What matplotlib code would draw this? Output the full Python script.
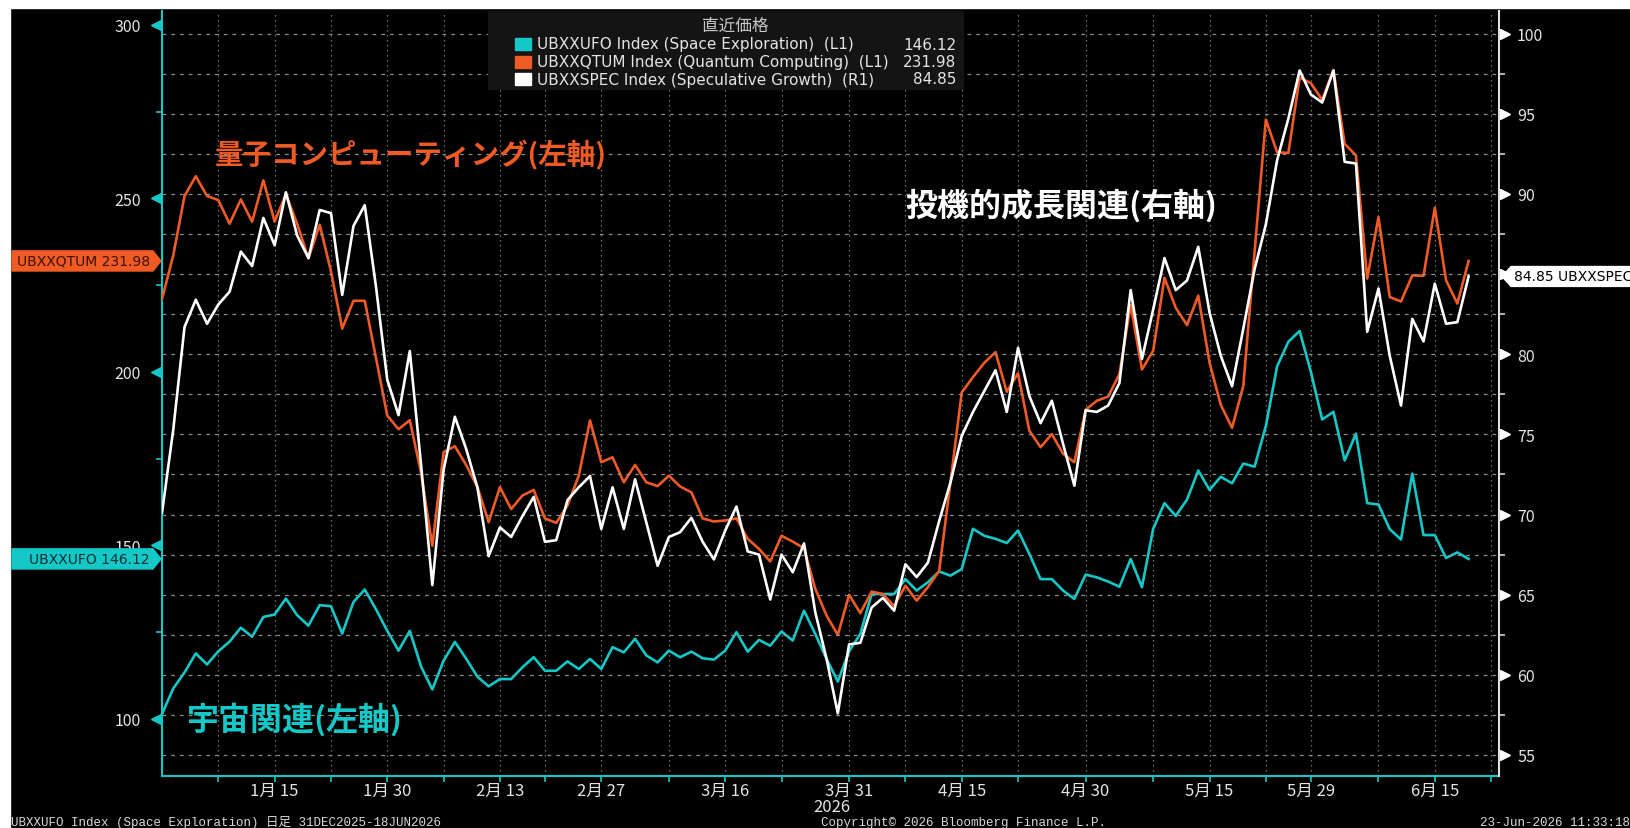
import numpy as np
import pandas as pd
import matplotlib.pyplot as plt
import matplotlib.transforms as mtransforms
from matplotlib.patches import Polygon, Rectangle

plt.rcParams["font.family"] = ["Noto Sans CJK JP", "DejaVu Sans"]

W, H = 1630, 829
CYAN = "#14c8c8"
ORANGE = "#f05a24"
GRID = "#8c8c8c"
TXT = "#e4e4e4"

# ---------- data (business days, US market holidays skipped) ----------
HOLIDAYS = ["2026-01-01", "2026-01-19", "2026-02-16", "2026-04-03", "2026-05-25"]
dates = pd.bdate_range("2025-12-31", "2026-06-18", freq="C", holidays=HOLIDAYS)

qtum = [221.0, 233.6, 250.7, 256.4, 250.7, 249.5, 242.7, 249.7, 243.3, 255.2,
        243.3, 251.2, 242.7, 232.7, 242.4, 229.0, 212.5, 220.5, 220.5, 204.0,
        187.4, 183.5, 186.1, 170.9, 149.9, 176.9, 178.6, 173.2, 166.9, 156.7,
        166.8, 160.5, 164.4, 166.0, 157.8, 156.5, 161.5, 170.1, 186.0, 174.0,
        175.4, 168.2, 173.2, 168.2, 167.1, 170.1, 167.0, 165.3, 157.8, 156.9,
        157.2, 157.8, 151.9, 149.0, 145.4, 152.8, 151.1, 149.2, 137.5, 129.8,
        124.2, 135.8, 130.5, 136.7, 136.0, 132.5, 138.4, 134.1, 138.0, 142.7,
        168.2, 194.1, 198.5, 202.6, 205.7, 194.3, 199.6, 183.1, 178.3, 182.1,
        176.4, 174.0, 189.1, 191.7, 192.9, 199.4, 219.3, 200.7, 206.1, 227.1,
        218.5, 213.5, 222.0, 202.7, 190.5, 183.9, 196.0, 234.6, 272.7, 263.3,
        263.1, 284.8, 283.2, 278.4, 287.0, 265.7, 262.4, 226.9, 244.6, 221.6,
        220.3, 227.8, 227.7, 247.3, 226.4, 219.7, 231.98]

spec = [70.1, 75.3, 81.7, 83.4, 81.9, 83.1, 83.9, 86.4, 85.5, 88.5,
        86.8, 90.1, 87.4, 86.0, 89.0, 88.8, 83.7, 88.0, 89.3, 84.2,
        78.4, 76.2, 80.2, 73.1, 65.6, 72.8, 76.1, 74.1, 71.7, 67.4,
        69.2, 68.6, 69.9, 71.1, 68.3, 68.4, 70.9, 71.7, 72.4, 69.1,
        71.7, 69.1, 72.2, 69.5, 66.8, 68.6, 68.9, 69.8, 68.3, 67.2,
        69.0, 70.5, 67.7, 67.5, 64.7, 67.5, 66.4, 68.2, 63.9, 61.0,
        57.6, 61.9, 62.0, 64.2, 64.8, 64.0, 66.9, 66.1, 67.0, 69.6,
        72.0, 74.9, 76.4, 77.7, 79.0, 76.4, 80.4, 77.4, 75.7, 77.1,
        74.4, 71.8, 76.5, 76.4, 76.8, 78.2, 84.0, 79.7, 82.8, 86.0,
        84.0, 84.6, 86.7, 82.6, 79.9, 78.0, 81.6, 85.3, 88.1, 92.1,
        94.7, 97.7, 96.2, 95.7, 97.7, 92.0, 91.9, 81.4, 84.1, 79.9,
        76.8, 82.2, 80.8, 84.4, 81.9, 82.0, 84.85]

ufo = [101.4, 108.8, 113.4, 118.9, 115.7, 119.5, 122.3, 126.3, 123.7, 129.4,
       130.1, 134.7, 129.9, 126.9, 132.8, 132.5, 124.6, 133.7, 137.3, 131.6,
       125.4, 119.7, 125.4, 115.1, 108.5, 116.8, 122.2, 117.4, 112.2, 109.4,
       111.5, 111.5, 114.9, 117.8, 113.9, 113.9, 116.6, 114.4, 117.3, 114.4,
       120.7, 119.2, 123.1, 118.3, 116.3, 119.7, 117.8, 119.4, 117.5, 117.1,
       119.7, 125.0, 119.4, 122.8, 121.1, 125.2, 122.6, 131.2, 124.5, 117.3,
       110.8, 119.5, 124.5, 136.0, 136.0, 136.0, 140.3, 137.0, 139.4, 142.5,
       141.3, 143.2, 154.8, 152.8, 151.9, 150.7, 154.3, 147.6, 140.3, 140.3,
       137.0, 134.6, 141.6, 140.8, 139.6, 138.1, 146.1, 138.0, 154.8, 162.2,
       158.5, 163.2, 171.6, 166.0, 169.8, 167.9, 173.6, 172.7, 184.4, 201.6,
       208.7, 211.8, 200.0, 186.3, 188.5, 174.5, 182.2, 162.2, 161.8, 154.7,
       151.7, 170.7, 153.0, 153.0, 146.4, 148.0, 146.12]

label_dates = ["2026-01-15", "2026-01-30", "2026-02-13", "2026-02-27", "2026-03-16",
               "2026-03-31", "2026-04-15", "2026-04-30", "2026-05-15", "2026-05-29",
               "2026-06-15"]
mid_ticks = [5, 15, 25, 34, 45, 55, 66, 76, 88, 98, 108, 118]

left_ticks = [100, 150, 200, 250, 300]
left_minor = [125, 175, 225, 275]
right_ticks = [55, 60, 65, 70, 75, 80, 85, 90, 95, 100]
right_minor = [57.5, 62.5, 67.5, 72.5, 77.5, 82.5, 87.5, 92.5, 97.5]

x = np.arange(len(dates))
label_idx = [dates.get_loc(pd.Timestamp(d)) for d in label_dates]
label_txt = [f"{pd.Timestamp(d).month}月 {pd.Timestamp(d).day}" for d in label_dates]


def fx(px):
    return px / W


def fy(py):
    return 1 - py / H


# ---------- figure ----------
fig = plt.figure(figsize=(W / 100, H / 100), dpi=100, facecolor="black")
fig.add_artist(Rectangle((0, fy(9)), 1, 9 / H, transform=fig.transFigure, color="white", zorder=0))
fig.add_artist(Rectangle((0, 0), fx(10), 1, transform=fig.transFigure, color="white", zorder=0))

ax = fig.add_axes([fx(162), fy(777), fx(1499 - 162), (777 - 12) / H])
ax.set_facecolor("black")
ax2 = ax.twinx()

ax.plot(x, ufo, color=CYAN, lw=1.9, zorder=3)
ax.plot(x, qtum, color=ORANGE, lw=1.9, zorder=3)
ax2.plot(x, spec, color="white", lw=1.9, zorder=3)

ax.set_xlim(0, 118.7)
ax.set_ylim(83.57, 304.0)
ax2.set_ylim(53.69, 101.41)

# x axis
ax.set_xticks(label_idx)
ax.set_xticklabels(label_txt)
ax.set_xticks(mid_ticks, minor=True)
ax.tick_params(axis="x", which="both", colors=CYAN, length=4, width=1.2,
               labelcolor=TXT, labelsize=12, pad=0)
ax.grid(axis="x", which="both", color=GRID, ls=(0, (1, 3)), lw=0.9)

# left axis
ax.set_yticks(left_ticks)
ax.set_yticks(left_minor, minor=True)
ax.tick_params(axis="y", which="major", length=0, pad=15, labelcolor=TXT, labelsize=11.5)
ax.tick_params(axis="y", which="minor", length=4, width=1.2, colors=CYAN)
ax.plot(np.full(len(left_ticks), -0.0045), left_ticks, ls="none", marker="<", ms=7,
        color=CYAN, transform=ax.get_yaxis_transform(), clip_on=False)

# right axis
ax2.set_yticks(right_ticks)
ax2.set_yticks(right_minor, minor=True)
ax2.tick_params(axis="y", which="major", length=0, pad=13, labelcolor=TXT, labelsize=11.5)
ax2.tick_params(axis="y", which="minor", length=4, width=1.2, colors="#d0d0d0")
ax2.plot(np.full(len(right_ticks), 1.0045), right_ticks, ls="none", marker=">", ms=7,
         color="white", transform=ax2.get_yaxis_transform(), clip_on=False)
ax2.grid(axis="y", which="both", color=GRID, ls=(0, (3, 4)), lw=0.9)
ax2.set_axisbelow(True)

for a in (ax, ax2):
    for s in a.spines.values():
        s.set_visible(False)
ax.spines["left"].set_visible(True)
ax.spines["left"].set_color(CYAN)
ax.spines["left"].set_linewidth(1.5)
ax.spines["bottom"].set_visible(True)
ax.spines["bottom"].set_color(CYAN)
ax.spines["bottom"].set_linewidth(1.5)
ax2.spines["right"].set_visible(True)
ax2.spines["right"].set_color("#e0e0e0")
ax2.spines["right"].set_linewidth(1.5)

# ---------- last-value tags ----------
tr_left = mtransforms.blended_transform_factory(fig.transFigure, ax.transData)
tr_right = mtransforms.blended_transform_factory(fig.transFigure, ax2.transData)


def tag(trans, v, h, xs, color, text, tcolor, tx, ha):
    x0, x1, tip = xs
    pts = [(fx(x0), v + h), (fx(x1), v + h), (fx(tip), v), (fx(x1), v - h), (fx(x0), v - h)]
    fig.add_artist(Polygon(pts, closed=True, transform=trans, color=color, zorder=10))
    fig.text(fx(tx), v, text, transform=trans, color=tcolor, fontsize=10,
             ha=ha, va="center", zorder=11, family=["DejaVu Sans"])


tag(tr_left, qtum[-1], 2.9, (12, 153, 161), ORANGE, f"UBXXQTUM {qtum[-1]:.2f}", "#3a1000", 150, "right")
tag(tr_left, ufo[-1], 2.9, (12, 153, 161), CYAN, f"UBXXUFO {ufo[-1]:.2f}", "#083030", 150, "right")
tag(tr_right, spec[-1], 0.62, (1660, 1511, 1502), "white", f"{spec[-1]:.2f} UBXXSPEC", "black", 1514, "left")

# ---------- legend box ----------
fig.add_artist(Rectangle((fx(488), fy(90)), fx(963 - 488), (90 - 12) / H,
                         transform=fig.transFigure, color="#141414", zorder=12))
fig.text(fx(735), fy(26), "直近価格", color="#c8c8c8", fontsize=12, ha="center", va="center", zorder=13)
leg_names = ["UBXXUFO Index (Space Exploration)  (L1)",
             "UBXXQTUM Index (Quantum Computing)  (L1)",
             "UBXXSPEC Index (Speculative Growth)  (R1)"]
leg_vals = [ufo[-1], qtum[-1], spec[-1]]
leg_cols = [CYAN, ORANGE, "white"]
for k, (nm, val, col) in enumerate(zip(leg_names, leg_vals, leg_cols)):
    yy = 45 + k * 17.5
    fig.add_artist(Rectangle((fx(515), fy(yy + 6)), fx(16), 12 / H, transform=fig.transFigure,
                             color=col, zorder=13))
    fig.text(fx(537), fy(yy), nm, color=TXT, fontsize=11, ha="left", va="center",
             zorder=13, family=["DejaVu Sans"])
    fig.text(fx(956), fy(yy), f"{val:.2f}", color=TXT, fontsize=11, ha="right", va="center",
             zorder=13, family=["DejaVu Sans"])

# ---------- annotations ----------
fig.text(fx(215), fy(154), "量子コンピューティング(左軸)", color=ORANGE, fontsize=20.5,
         fontweight="bold", ha="left", va="center")
fig.text(fx(905), fy(206), "投機的成長関連(右軸)", color="white", fontsize=23,
         fontweight="bold", ha="left", va="center")
fig.text(fx(187), fy(720), "宇宙関連(左軸)", color=CYAN, fontsize=23,
         fontweight="bold", ha="left", va="center")

# ---------- footer ----------
fig.text(fx(813), fy(808), "2026", color=TXT, fontsize=12, ha="left", va="center")
foot = ["Liberation Mono", "Noto Sans CJK JP"]
fig.text(fx(11), fy(823), "UBXXUFO Index (Space Exploration) 日足 31DEC2025-18JUN2026",
         color="#d8d8d8", fontsize=9, ha="left", va="center", family=foot)
fig.text(fx(821), fy(823), "Copyright© 2026 Bloomberg Finance L.P.",
         color="#d8d8d8", fontsize=9, ha="left", va="center", family=foot)
fig.text(fx(1480), fy(823), "23-Jun-2026 11:33:18",
         color="#d8d8d8", fontsize=9, ha="left", va="center", family=foot)

fig.savefig("out.png", dpi=100, facecolor=fig.get_facecolor())
